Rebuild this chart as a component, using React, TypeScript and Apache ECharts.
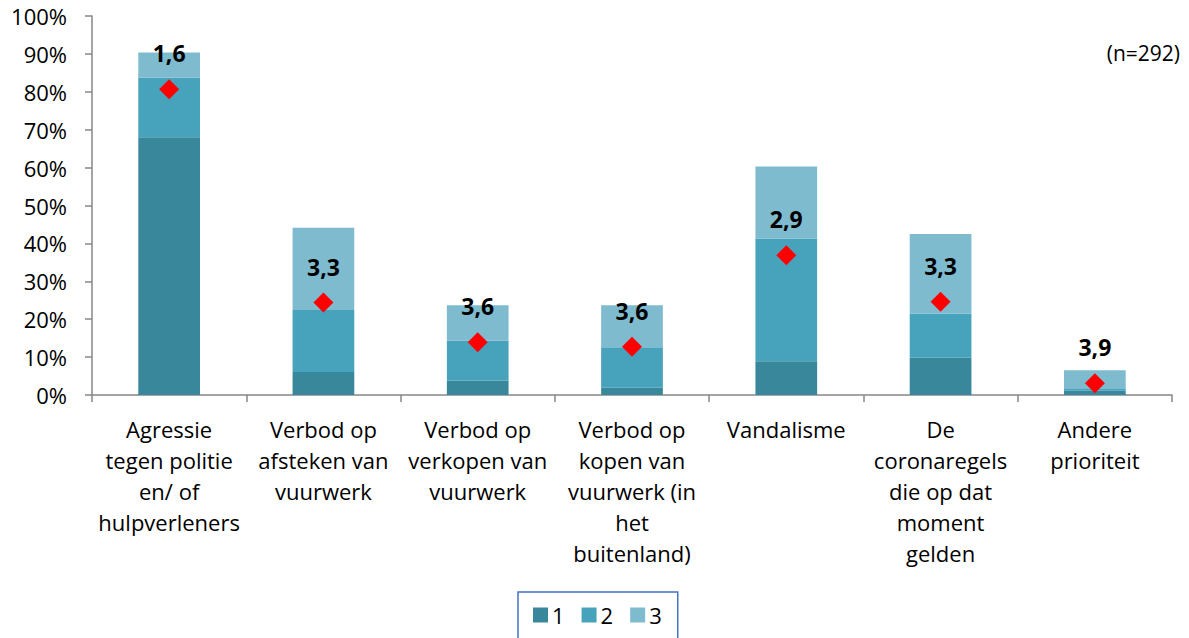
import React, { useEffect, useRef } from "react";
import * as echarts from "echarts";

const categories = [
  "Agressie\ntegen politie\nen/ of\nhulpverleners",
  "Verbod op\nafsteken van\nvuurwerk",
  "Verbod op\nverkopen van\nvuurwerk",
  "Verbod op\nkopen van\nvuurwerk (in\nhet\nbuitenland)",
  "Vandalisme",
  "De\ncoronaregels\ndie op dat\nmoment\ngelden",
  "Andere\nprioriteit",
];
const series1 = [68.0, 6.1, 3.8, 1.9, 8.9, 9.8, 1.1];
const series2 = [15.7, 16.3, 10.5, 10.5, 32.4, 11.7, 0.5];
const series3 = [6.7, 21.7, 9.4, 11.3, 19.0, 21.0, 4.9];
const markerValues = [80.7, 24.4, 13.9, 12.7, 36.9, 24.6, 3.1];
const meanLabels = ["1,6", "3,3", "3,6", "3,6", "2,9", "3,3", "3,9"];
const yTicks = { min: 0, max: 100, interval: 10 };
const nLabel = "(n=292)";

const FONT = "'Open Sans', sans-serif";

export default function App() {
  const ref = useRef<HTMLDivElement>(null);
  useEffect(() => {
    if (!ref.current) return;
    const chart = echarts.init(ref.current, null, { renderer: "svg" });
    const barCommon = {
      type: "bar",
      stack: "total",
      barWidth: "40%",
    };
    chart.setOption({
      animation: false,
      backgroundColor: "#ffffff",
      textStyle: { fontFamily: FONT },
      grid: { left: 92, right: 17, top: 16, bottom: 243, containLabel: false },
      legend: {
        data: ["1", "2", "3"],
        left: 518,
        top: 592,
        orient: "horizontal",
        itemWidth: 15,
        itemHeight: 15,
        itemGap: 17,
        padding: [12, 16, 40, 15],
        borderColor: "#4472C4",
        borderWidth: 1.5,
        icon: "rect",
        textStyle: { fontFamily: FONT, fontSize: 22, color: "#000", padding: [0, 0, 0, -1] },
      },
      xAxis: {
        type: "category",
        data: categories,
        axisLine: { lineStyle: { color: "#878787", width: 1.5 } },
        axisTick: { show: true, length: 7, lineStyle: { color: "#878787", width: 1.5 } },
        axisLabel: {
          interval: 0,
          margin: 18,
          fontFamily: FONT,
          fontSize: 22,
          lineHeight: 31,
          color: "#000",
          align: "center",
        },
      },
      yAxis: {
        type: "value",
        min: yTicks.min,
        max: yTicks.max,
        interval: yTicks.interval,
        splitLine: { show: false },
        axisLine: { show: true, lineStyle: { color: "#878787", width: 1.5 } },
        axisTick: { show: true, length: 7, lineStyle: { color: "#878787", width: 1.5 } },
        axisLabel: {
          formatter: "{value}%",
          margin: 25,
          fontFamily: FONT,
          fontSize: 22,
          color: "#000",
        },
      },
      series: [
        { ...barCommon, name: "1", data: series1, itemStyle: { color: "#39879A" } },
        { ...barCommon, name: "2", data: series2, itemStyle: { color: "#47A2BB" } },
        { ...barCommon, name: "3", data: series3, itemStyle: { color: "#7FBBCF" } },
        {
          type: "scatter",
          name: "gemiddelde",
          data: markerValues,
          symbol: "diamond",
          symbolSize: [20, 20],
          itemStyle: { color: "#FF0000", opacity: 1 },
          z: 10,
          label: {
            show: true,
            position: "inside",
            offset: [0, -36],
            formatter: (p: any) => meanLabels[p.dataIndex],
            fontFamily: FONT,
            fontSize: 23,
            fontWeight: "bold",
            color: "#000",
            textBorderWidth: 0,
          },
        },
      ],
      graphic: [
        {
          type: "text",
          right: 9,
          top: 42,
          style: { text: nLabel, fontFamily: FONT, fontSize: 21, fill: "#000" },
        },
      ],
    });
    return () => chart.dispose();
  }, []);
  return (
    <div
      ref={ref}
      style={{ position: "fixed", left: 0, top: 0, width: 1189, height: 638 }}
    />
  );
}
